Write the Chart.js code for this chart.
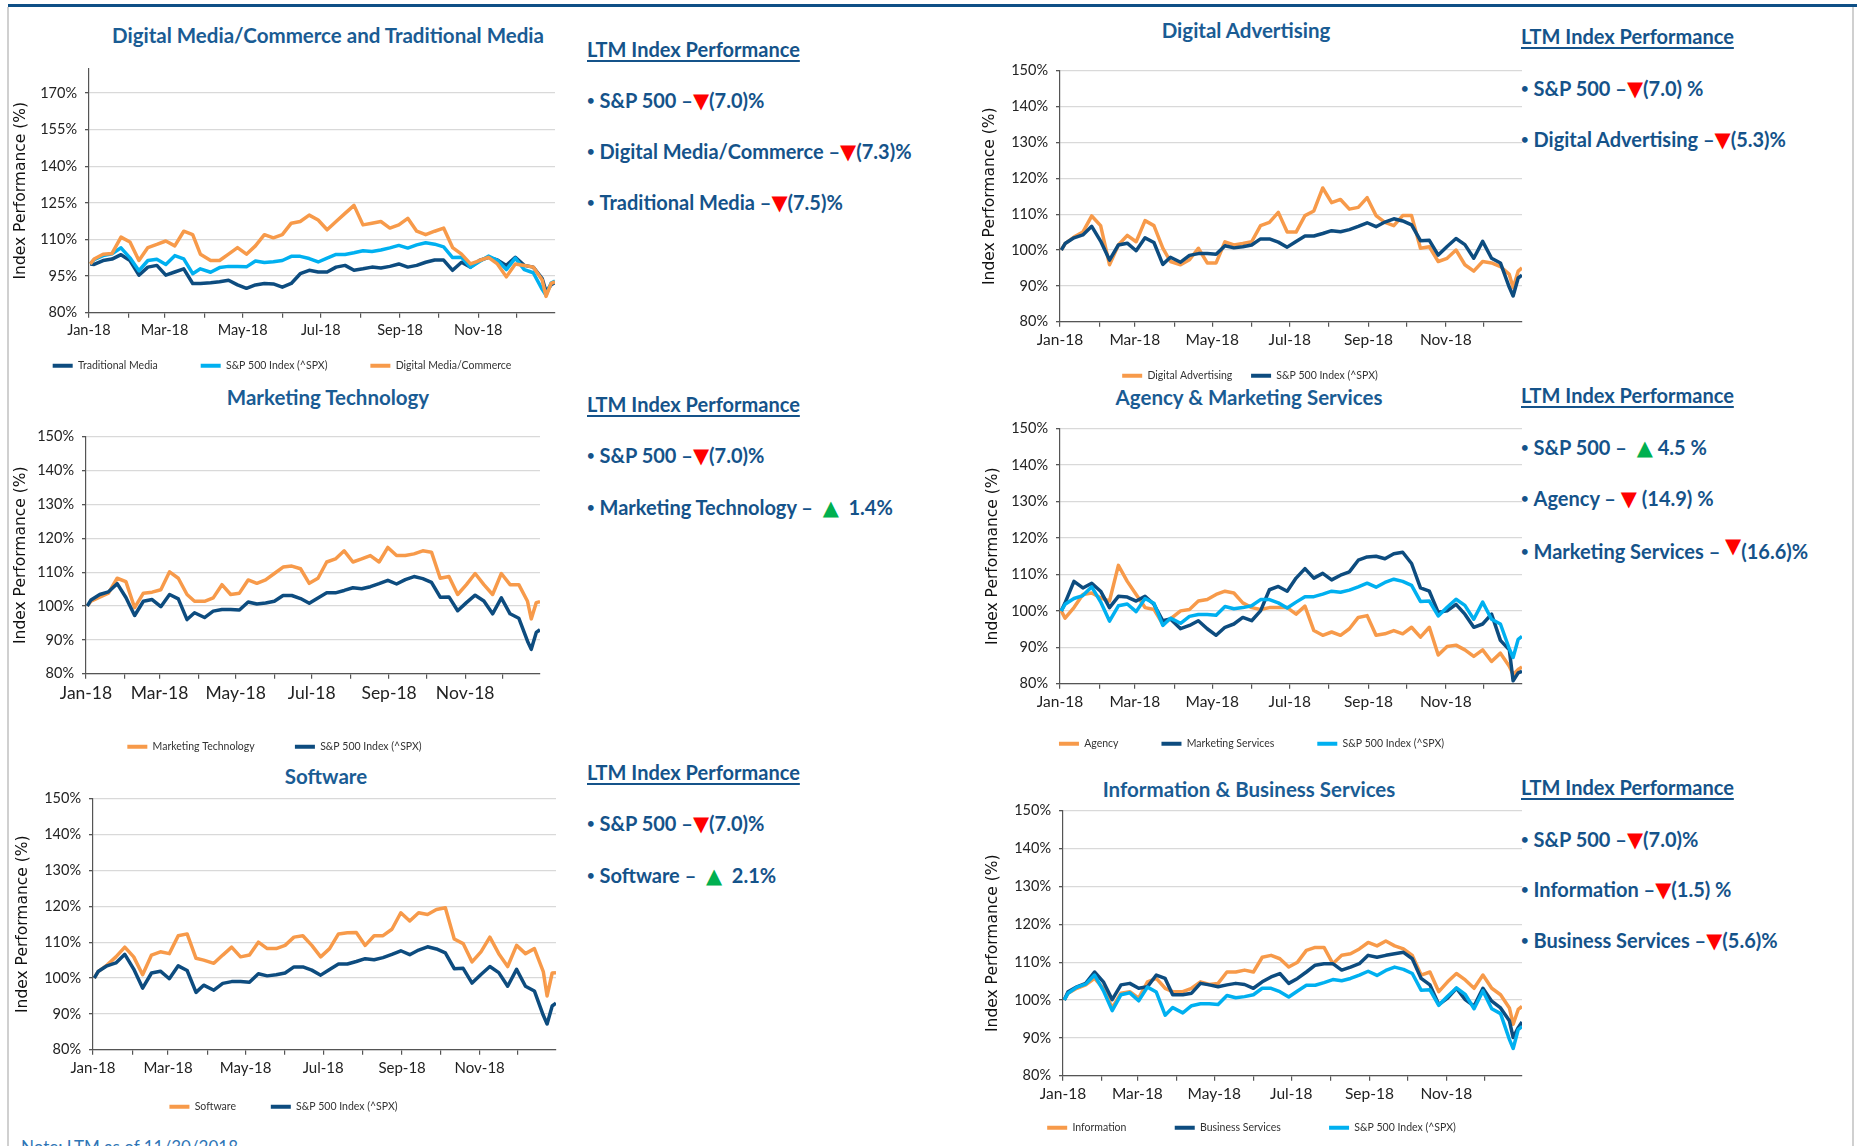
<!DOCTYPE html>
<html lang="en">
<head>
<meta charset="UTF-8">
<title>LTM Index Performance</title>
<script src="https://cdn.jsdelivr.net/npm/chart.js@4.4.1/dist/chart.umd.min.js"></script>
<style>
  body { margin: 0; background: #fff; }
  #page { position: relative; width: 1857px; height: 1146px; overflow: hidden; font-family: Lato, "Open Sans", sans-serif; color: #15538a; }
  canvas { position: absolute; }
  .frame { position: absolute; }
  .title { position: absolute; font-weight: bold; font-size: 20.5px; white-space: nowrap; transform: translate(-50%, -50%); color: #1a5c94; }
  .line { position: absolute; font-weight: bold; font-size: 20px; white-space: nowrap; transform: translateY(-50%); }
  .hd { text-decoration: underline; text-underline-offset: 3px; }
  .dot { font-size: 13px; vertical-align: 3px; margin-right: 5px; }
  .dn { color: #ff0000; font-family: "DejaVu Sans"; font-size: 21px; }
  .up { color: #00b050; font-family: "DejaVu Sans"; font-size: 21px; }
  .note { position: absolute; left: 21px; top: 1136px; font-size: 17px; color: #2e75b6; white-space: nowrap; }
</style>
</head>
<body>
<div id="page">
  <!-- slide frame -->
  <div class="frame" style="left:8px;top:4px;width:1849px;height:3px;background:#0e4f86"></div>
  <div class="frame" style="left:7px;top:7px;width:2px;height:1139px;background:#d0d0d0"></div>
  <div class="frame" style="left:1852px;top:7px;width:2px;height:1139px;background:#d0d0d0"></div>

  <!-- chart titles -->
  <div class="title" style="left:328px;top:35px">Digital Media/Commerce and Traditional Media</div>
  <div class="title" style="left:1246px;top:30px">Digital Advertising</div>
  <div class="title" style="left:328px;top:397px">Marketing Technology</div>
  <div class="title" style="left:1249px;top:397px">Agency &amp; Marketing Services</div>
  <div class="title" style="left:326px;top:776px">Software</div>
  <div class="title" style="left:1249px;top:789px">Information &amp; Business Services</div>

  <!-- LTM panels -->
  <div class="line hd" style="left:587px;top:49px">LTM Index Performance</div>
  <div class="line" style="left:587px;top:100px"><span class="dot">•</span>S&amp;P 500 –<span class="dn">▼</span>(7.0)%</div>
  <div class="line" style="left:587px;top:151px"><span class="dot">•</span>Digital Media/Commerce –<span class="dn">▼</span>(7.3)%</div>
  <div class="line" style="left:587px;top:202px"><span class="dot">•</span>Traditional Media –<span class="dn">▼</span>(7.5)%</div>

  <div class="line hd" style="left:1521px;top:36px">LTM Index Performance</div>
  <div class="line" style="left:1521px;top:88px"><span class="dot">•</span>S&amp;P 500 –<span class="dn">▼</span>(7.0) %</div>
  <div class="line" style="left:1521px;top:139px"><span class="dot">•</span>Digital Advertising –<span class="dn">▼</span>(5.3)%</div>

  <div class="line hd" style="left:587px;top:404px">LTM Index Performance</div>
  <div class="line" style="left:587px;top:455px"><span class="dot">•</span>S&amp;P 500 –<span class="dn">▼</span>(7.0)%</div>
  <div class="line" style="left:587px;top:507px"><span class="dot">•</span>Marketing Technology –&nbsp; <span class="up">▲</span>&nbsp; 1.4%</div>

  <div class="line hd" style="left:1521px;top:395px">LTM Index Performance</div>
  <div class="line" style="left:1521px;top:447px"><span class="dot">•</span>S&amp;P 500 –&nbsp; <span class="up">▲</span> 4.5 %</div>
  <div class="line" style="left:1521px;top:498px"><span class="dot">•</span>Agency – <span class="dn">▼</span> (14.9) %</div>
  <div class="line" style="left:1521px;top:548px"><span class="dot">•</span>Marketing Services – <span class="dn" style="vertical-align:6px">▼</span>(16.6)%</div>

  <div class="line hd" style="left:587px;top:772px">LTM Index Performance</div>
  <div class="line" style="left:587px;top:823px"><span class="dot">•</span>S&amp;P 500 –<span class="dn">▼</span>(7.0)%</div>
  <div class="line" style="left:587px;top:875px"><span class="dot">•</span>Software –&nbsp; <span class="up">▲</span>&nbsp; 2.1%</div>

  <div class="line hd" style="left:1521px;top:787px">LTM Index Performance</div>
  <div class="line" style="left:1521px;top:839px"><span class="dot">•</span>S&amp;P 500 –<span class="dn">▼</span>(7.0)%</div>
  <div class="line" style="left:1521px;top:889px"><span class="dot">•</span>Information –<span class="dn">▼</span>(1.5) %</div>
  <div class="line" style="left:1521px;top:940px"><span class="dot">•</span>Business Services –<span class="dn">▼</span>(5.6)%</div>

  <div class="note">Note: LTM as of 11/30/2018</div>
</div>

<script>
// day of year 2018 (Jan 1 = 0), weekly closes plus the Dec 24 low
var days = [1, 4, 11, 18, 25, 32, 39, 46, 53, 60, 67, 74, 81, 87, 95, 102, 109, 116, 123, 130,
  137, 144, 151, 158, 165, 172, 179, 186, 193, 200, 207, 214, 221, 228, 235, 242, 249, 256, 263, 270,
  277, 284, 291, 298, 305, 312, 319, 326, 333, 340, 347, 354, 357, 361, 364];

var monthStarts = [0, 31, 59, 90, 120, 151, 181, 212, 243, 273, 304, 334];
var monthLabels = ['Jan-18', '', 'Mar-18', '', 'May-18', '', 'Jul-18', '', 'Sep-18', '', 'Nov-18', ''];
var ticksWide = [80, 95, 110, 125, 140, 155, 170];
var ticksNarrow = [80, 90, 100, 110, 120, 130, 140, 150];

var sp500 = [100.0, 101.8, 103.4, 104.2, 106.6, 102.5, 97.2, 101.4, 101.9, 99.8, 103.4, 102.1, 96.0, 98.0, 96.6,
  98.5, 99.0, 99.0, 98.8, 101.2, 100.6, 100.9, 101.4, 103.1, 103.1, 102.2, 100.8, 102.4, 103.9, 103.9,
  104.6, 105.4, 105.1, 105.7, 106.6, 107.6, 106.5, 107.8, 108.7, 108.1, 107.0, 102.6, 102.7, 98.6, 101.0,
  103.2, 101.5, 97.7, 102.4, 97.7, 96.4, 89.6, 87.2, 92.2, 93.0];

var tradMedia = [100, 99.8, 101.4, 102, 103.8, 101.4, 95.4, 98.7, 99.4, 95.4, 96.7, 98, 92, 92, 92.3,
  92.7, 93.3, 91.4, 90, 91.4, 92, 91.8, 90.5, 92, 96, 97.4, 96.7, 96.7, 98.7, 99.4,
  97.4, 98, 98.7, 98.3, 99, 100, 98.7, 99.4, 100.7, 101.6, 101.6, 97.4, 100.7, 98.7, 101.4,
  102.7, 101.6, 99.4, 102.7, 99.4, 98.7, 94, 88.7, 91.4, 92.5];

var digitalMedia = [100, 102, 104, 104.3, 111, 109, 101.4, 106.7, 108, 109.4, 107.4, 113.4, 112, 104, 101.4,
  101.4, 104, 106.7, 104, 107.4, 112, 110.7, 112, 116.7, 117.4, 120, 118, 114, 117.4, 120.7,
  124, 116, 116.7, 117.4, 114.7, 116, 118.7, 113.4, 112, 113.4, 114.7, 106.7, 104, 100, 101.4,
  102.7, 100, 94.7, 100, 99.4, 98.7, 93.4, 86.7, 92, 92.7];

var digitalAdv = [100, 101.8, 103.6, 105, 109.5, 106.8, 95.9, 101.4, 104.1, 102.3, 108.2, 106.8, 100.5, 96.8, 95.9,
  97.3, 100.5, 96.4, 96.4, 102.3, 101.4, 101.8, 102.3, 106.8, 107.7, 110.5, 105, 105, 109.6, 110.9,
  117.3, 113.2, 114.1, 111.4, 111.9, 114.6, 109.6, 107.7, 106.8, 109.6, 109.6, 100.5, 100.9, 96.8, 97.7,
  100, 95.9, 94.1, 96.8, 96.4, 95.4, 93.2, 89.5, 94.1, 95];

var martech = [100, 101.4, 102.6, 103.8, 108.2, 107.2, 99.5, 103.8, 104.1, 104.8, 110.1, 108.2, 103.4, 101.4, 101.4,
  102.4, 106.3, 103.4, 103.8, 107.7, 106.7, 107.7, 109.6, 111.5, 111.8, 111, 106.7, 108.2, 113, 113.9,
  116.3, 113, 113.9, 114.9, 113, 117.3, 114.9, 114.9, 115.4, 116.3, 115.9, 108.2, 108.7, 103.4, 106.3,
  109.6, 106.3, 103.4, 109.6, 106.3, 106.3, 101.4, 96.2, 101, 101.3];

var agency = [100, 98, 100.9, 104.5, 104.9, 103.6, 102.7, 112.5, 108.1, 104.5, 100.9, 100.4, 96.4, 97.8, 100,
  100.4, 102.7, 103.1, 104.5, 105.4, 104.9, 102.2, 100.9, 100.4, 100.9, 100.9, 100.9, 99.1, 101.3, 94.6,
  93.3, 94.2, 93.3, 95.1, 98.2, 98.7, 93.3, 93.7, 94.6, 93.7, 95.5, 92.8, 95.5, 87.9, 90.2,
  90.6, 89.3, 87.5, 89.3, 86.1, 88.4, 84.8, 82.5, 83.9, 84.6];

var mktServices = [100, 102.2, 108.1, 106.3, 107.6, 105.4, 100.9, 104, 103.8, 102.7, 104, 101.8, 97.3, 97.8, 95.1,
  96, 97.3, 95.1, 93.3, 95.5, 96.4, 98.2, 97.3, 100, 105.8, 106.7, 105.4, 109, 111.6, 109,
  110.3, 108.5, 109.8, 110.7, 113.9, 114.8, 115, 114.3, 115.7, 116.1, 113, 106.3, 105.4, 99.6, 100,
  101.8, 99.1, 95.5, 96.4, 99.1, 91.9, 89.3, 80.8, 83, 83.4];

var software = [100, 101.8, 103.6, 105.9, 108.6, 105.9, 100.9, 106.4, 107.3, 106.8, 111.8, 112.3, 105.5, 105, 104.1,
  106.4, 108.6, 105.9, 106.4, 110, 108.2, 108.2, 109.1, 111.4, 111.8, 109.1, 105.9, 108.2, 112.3, 112.6,
  112.7, 109.1, 111.8, 111.8, 113.6, 118.2, 115.9, 118.2, 117.7, 119.1, 119.6, 110.9, 109.6, 104.5, 107.3,
  111.4, 106.8, 103.2, 109.1, 106.8, 108.2, 101.8, 95, 101.4, 101.5];

var information = [100, 101.8, 103.1, 104, 105.7, 103.1, 97.9, 101.8, 102.2, 100.5, 104.8, 105.7, 103.1, 102.2, 102.2,
  103.1, 104.8, 104.1, 104.4, 107.4, 107.4, 107.9, 107.4, 111.3, 111.8, 110.9, 108.7, 110, 113.1, 113.9,
  113.9, 109.6, 111.8, 112.2, 113.5, 115.2, 114.3, 115.6, 114.3, 113.5, 111.8, 106.6, 107.4, 102.2, 104.8,
  107, 105.3, 103.1, 106.6, 103.1, 101.4, 97.9, 93.6, 97.5, 98.3];

var bizServices = [100, 102.2, 103.5, 104.4, 107.4, 104.8, 100.1, 104, 104.4, 103.1, 103.5, 106.6, 105.7, 101.4, 101.4,
  101.8, 104.4, 104, 103.5, 104, 104.4, 104.1, 103.1, 104.8, 106.1, 107, 104.4, 105.7, 107.4, 109.2,
  109.6, 109.6, 107.9, 108.7, 109.6, 111.8, 111.3, 111.8, 112.2, 112.6, 110.9, 105.7, 104, 98.8, 100.5,
  103.1, 100.1, 98.4, 103.1, 99.7, 97.9, 94.5, 90.1, 92.7, 94.2];

var NAVY = '#0d4c7f', SKY = '#00b0f0', ORANGE = '#f79a4a';
var SPX = 'S&P 500 Index (^SPX)';

/* ------- chart placements (plot area in page pixels) ------- */
var charts = [
  { left: 89, right: 555, top: 64, bottom: 313, legendY: 366, titleX: 21, yMax: 180, yTicks: ticksWide, gap: 43, xFont: 14.5,
    series: [['Traditional Media', tradMedia, NAVY], [SPX, sp500, SKY], ['Digital Media/Commerce', digitalMedia, ORANGE]] },
  { left: 1060, right: 1522, top: 66, bottom: 322, legendY: 376, titleX: 990, yMax: 150, yTicks: ticksNarrow, gap: 18, xFont: 15.5,
    series: [['Digital Advertising', digitalAdv, ORANGE], [SPX, sp500, NAVY]] },
  { left: 86, right: 540, top: 432, bottom: 674, legendY: 747, titleX: 21, yMax: 150, yTicks: ticksNarrow, gap: 40, xFont: 17.5,
    series: [['Marketing Technology', martech, ORANGE], [SPX, sp500, NAVY]] },
  { left: 1060, right: 1522, top: 424, bottom: 684, legendY: 744, titleX: 993, yMax: 150, yTicks: ticksNarrow, gap: 42, xFont: 15.5,
    series: [['Agency', agency, ORANGE], ['Marketing Services', mktServices, NAVY], [SPX, sp500, SKY]] },
  { left: 93, right: 556, top: 794, bottom: 1050, legendY: 1107, titleX: 23, yMax: 150, yTicks: ticksNarrow, gap: 36, xFont: 15,
    series: [['Software', software, ORANGE], [SPX, sp500, NAVY]] },
  { left: 1063, right: 1522, top: 806, bottom: 1076, legendY: 1128, titleX: 993, yMax: 150, yTicks: ticksNarrow, gap: 48, xFont: 15.5,
    series: [['Information', information, ORANGE], ['Business Services', bizServices, NAVY], [SPX, sp500, SKY]] }
];

var LEGEND_FONT = 10.5, LEGEND_PAD = 8;

// trailing spaces widen the gap between legend items without touching the vertical padding
function spacer(px) {
  var ctx = document.createElement('canvas').getContext('2d');
  ctx.font = LEGEND_FONT + 'px Lato';
  var w = ctx.measureText(' ').width || 2.5;
  return new Array(Math.max(0, Math.round(px / w)) + 1).join(' ');
}

function addChart(c) {
  var yw = c.left - (c.titleX - 12), topPad = 12, rightPad = 12, fs = LEGEND_FONT;
  var xh = c.legendY - c.bottom - LEGEND_PAD - fs / 2;
  var legendH = fs + LEGEND_PAD + 10;
  var extra = spacer(c.gap - LEGEND_PAD);

  var canvas = document.createElement('canvas');
  canvas.width = c.right - c.left + yw + rightPad;
  canvas.height = Math.round(topPad + (c.bottom - c.top) + xh + legendH);
  canvas.style.left = (c.left - yw) + 'px';
  canvas.style.top = (c.top - topPad) + 'px';
  document.getElementById('page').appendChild(canvas);

  var n = c.series.length;
  new Chart(canvas.getContext('2d'), {
    type: 'line',
    data: {
      datasets: c.series.map(function (s, i) {
        return {
          label: s[0],
          data: days.map(function (d, k) { return { x: d, y: s[1][k] }; }),
          borderColor: s[2],
          backgroundColor: s[2],
          borderWidth: 3.5,
          pointRadius: 0,
          tension: 0,
          borderJoinStyle: 'round',
          order: n - i   // later series drawn on top, like Excel
        };
      })
    },
    options: {
      responsive: false,
      animation: false,
      layout: { padding: { top: topPad, right: rightPad, left: 0, bottom: 0 } },
      scales: {
        x: {
          type: 'linear', min: 0, max: 364,
          afterBuildTicks: function (s) { s.ticks = monthStarts.map(function (v) { return { value: v }; }); },
          afterFit: function (s) { s.height = xh; },
          grid: { drawOnChartArea: false, tickLength: 5, tickColor: '#555', lineWidth: 1.2 },
          border: { color: '#555', width: 1.2 },
          ticks: {
            autoSkip: false, maxRotation: 0, padding: 4, color: '#222',
            font: { family: 'Lato', size: c.xFont },
            callback: function (v, i) { return monthLabels[i]; }
          }
        },
        y: {
          min: 80, max: c.yMax,
          afterBuildTicks: function (s) { s.ticks = c.yTicks.map(function (v) { return { value: v }; }); },
          afterFit: function (s) { s.width = yw; },
          grid: { color: '#d9d9d9', lineWidth: 1.3, tickLength: 4, tickColor: '#555' },
          border: { color: '#555', width: 1.2 },
          ticks: { padding: 8, color: '#222', font: { family: 'Lato', size: 14.5 }, callback: function (v) { return v + '%'; } },
          title: { display: true, text: 'Index Performance (%)', color: '#111', font: { family: 'DejaVu Sans', size: 15.5 }, padding: { top: 3, bottom: 0 } }
        }
      },
      plugins: {
        tooltip: { enabled: false },
        legend: {
          position: 'bottom',
          labels: {
            boxWidth: 20, boxHeight: 4, padding: LEGEND_PAD, color: '#333',
            font: { family: 'Lato', size: fs },
            generateLabels: function (chart) {
              var items = Chart.defaults.plugins.legend.labels.generateLabels(chart);
              items.sort(function (a, b) { return a.datasetIndex - b.datasetIndex; });
              return items.map(function (l, i) {
                l.lineWidth = 0;
                if (i < items.length - 1) l.text = l.text + extra;
                return l;
              });
            }
          }
        }
      }
    }
  });
}

charts.forEach(addChart);
</script>
</body>
</html>
